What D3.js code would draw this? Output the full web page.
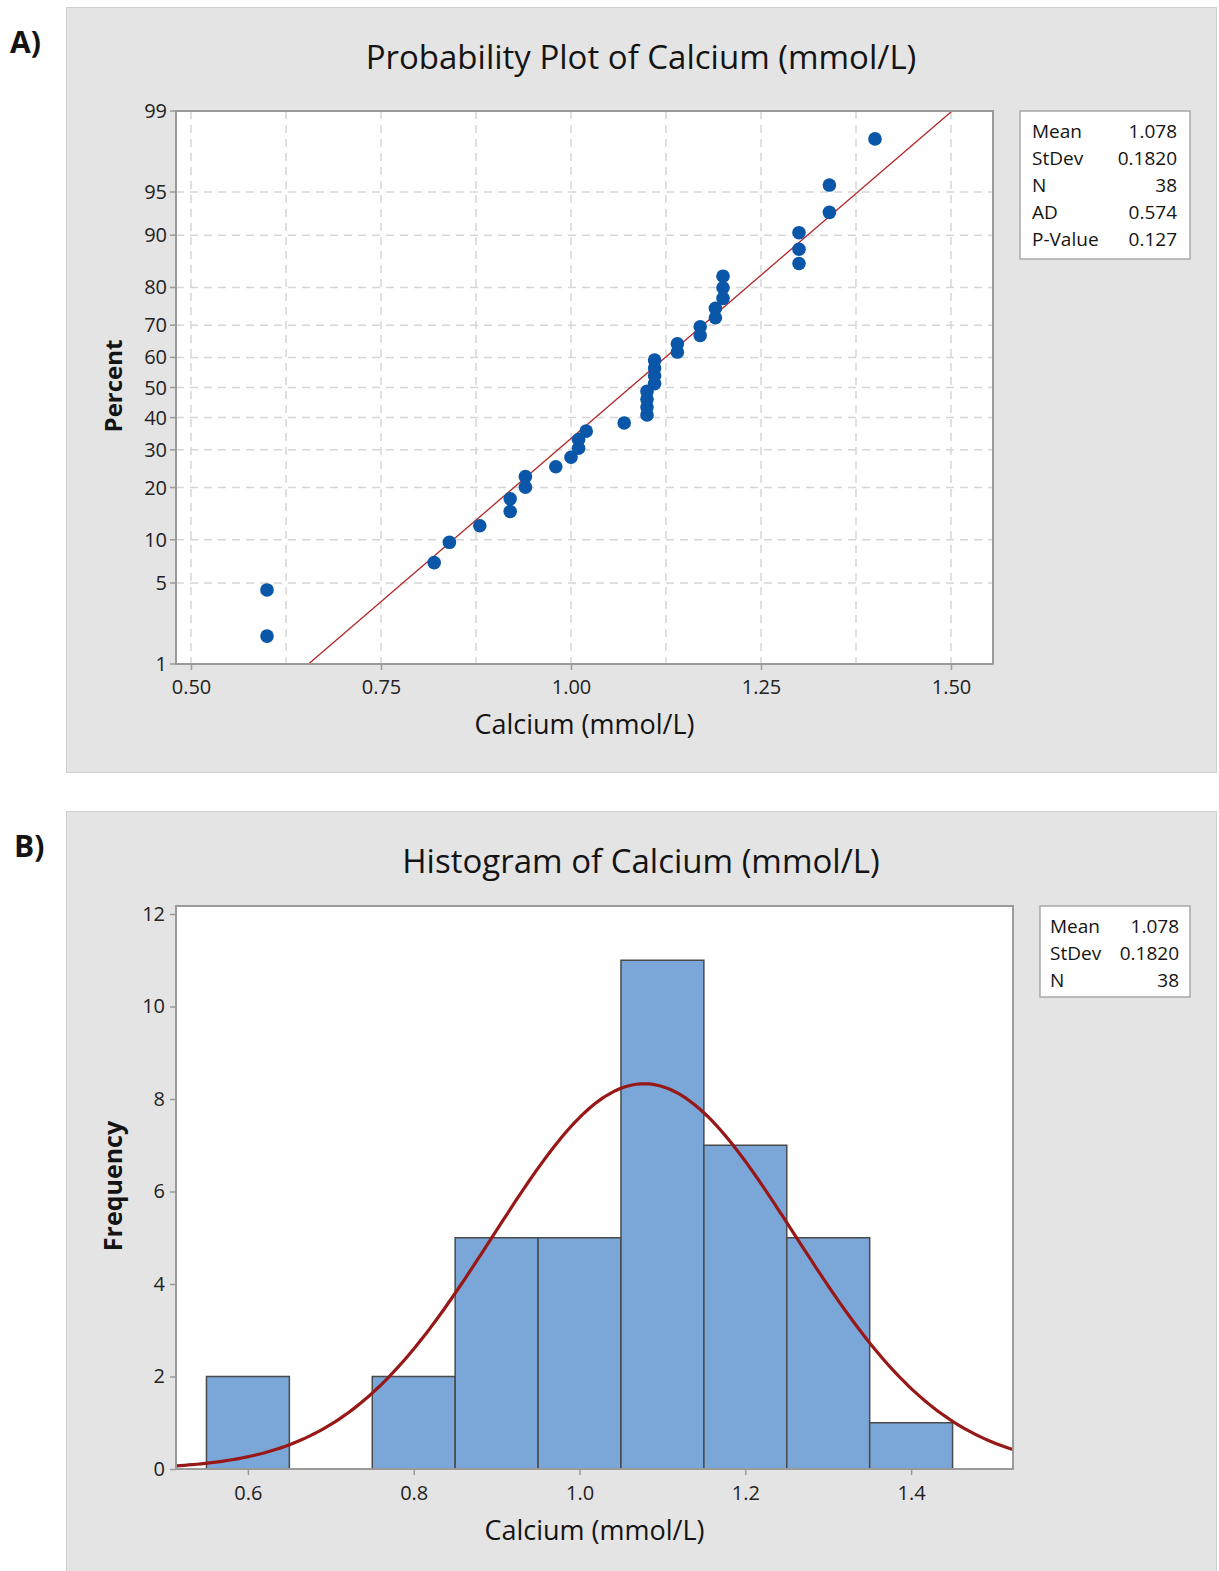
<!DOCTYPE html>
<html>
<head>
<meta charset="utf-8">
<script src="https://cdn.jsdelivr.net/npm/d3@7"></script>
<style>
  body { margin: 0; background: #fff; font-family: "Open Sans", "Noto Sans", sans-serif; }
  svg text { fill: #141414; }
</style>
</head>
<body>
<div id="my_dataviz"></div>
<script>
// calcium values (sorted)
var calcium = [0.60, 0.60, 0.82, 0.84, 0.88, 0.92, 0.92, 0.94, 0.94, 0.98,
               1.00, 1.01, 1.01, 1.02, 1.07, 1.10, 1.10, 1.10, 1.10, 1.11,
               1.11, 1.11, 1.11, 1.14, 1.14, 1.17, 1.17, 1.19, 1.19, 1.20,
               1.20, 1.20, 1.30, 1.30, 1.30, 1.34, 1.34, 1.40];
var fitMean = 1.078;
var fitSd = 0.1820;

var probStatLabels = ["Mean", "StDev", "N", "AD", "P-Value"];
var probStatValues = ["1.078", "0.1820", "38", "0.574", "0.127"];
var histStatLabels = ["Mean", "StDev", "N"];
var histStatValues = ["1.078", "0.1820", "38"];

var percentTicks = [1, 5, 10, 20, 30, 40, 50, 60, 70, 80, 90, 95, 99];
var probXTicks = [0.50, 0.75, 1.00, 1.25, 1.50];
var probXGrid = [0.50, 0.625, 0.75, 0.875, 1.00, 1.125, 1.25, 1.375, 1.50];

var binEdges = [0.55, 0.65, 0.75, 0.85, 0.95, 1.05, 1.15, 1.25, 1.35, 1.45];
var freqTicks = [0, 2, 4, 6, 8, 10, 12];
var histXTicks = [0.6, 0.8, 1.0, 1.2, 1.4];

// inverse normal cdf (Acklam)
function qnorm(p) {
    var a = [-39.69683028665376, 220.9460984245205, -275.9285104469687, 138.3577518672690, -30.66479806614716, 2.506628277459239];
    var b = [-54.47609879822406, 161.5858368580409, -155.6989798598866, 66.80131188771972, -13.28068155288572];
    var c = [-0.007784894002430293, -0.3223964580411365, -2.400758277161838, -2.549732539343734, 4.374664141464968, 2.938163982698783];
    var d = [0.007784695709041462, 0.3224671290700398, 2.445134137142996, 3.754408661907416];
    var q, r;
    if (p < 0.02425) {
        q = Math.sqrt(-2 * Math.log(p));
        return (((((c[0]*q+c[1])*q+c[2])*q+c[3])*q+c[4])*q+c[5]) / ((((d[0]*q+d[1])*q+d[2])*q+d[3])*q+1);
    } else if (p > 1 - 0.02425) {
        q = Math.sqrt(-2 * Math.log(1 - p));
        return -(((((c[0]*q+c[1])*q+c[2])*q+c[3])*q+c[4])*q+c[5]) / ((((d[0]*q+d[1])*q+d[2])*q+d[3])*q+1);
    }
    q = p - 0.5; r = q * q;
    return (((((a[0]*r+a[1])*r+a[2])*r+a[3])*r+a[4])*r+a[5])*q / (((((b[0]*r+b[1])*r+b[2])*r+b[3])*r+b[4])*r+1);
}

var W = 1219, H = 1571;
var svg = d3.select("#my_dataviz").append("svg")
    .attr("width", W).attr("height", H)
    .style("display", "block");

var panelFill = "#e4e4e4", panelStroke = "#cfcfcf";
var gridColor = "#d6d6d6", frameColor = "#9a9a9a";
var tickFont = "20px", labelFont = "27px", titleFont = "33px", legendFont = "19px";

// ---------------- Panel A : probability plot ----------------
svg.append("text").attr("x", 10).attr("y", 53)
    .style("font-size", "30px").style("font-weight", "bold").text("A)");

svg.append("rect").attr("x", 66.5).attr("y", 7.5).attr("width", 1150).attr("height", 765)
    .attr("fill", panelFill).attr("stroke", panelStroke);

var a = {left: 176, top: 111, right: 993, bottom: 664};
var gA = svg.append("g");

var xA = d3.scaleLinear().domain([0.5 - 15 / 760, 0.5 + 802 / 760]).range([a.left, a.right]);
var zMax = qnorm(0.99);
var yA = d3.scaleLinear().domain([-zMax, zMax]).range([a.bottom, a.top]);
var yP = function(p) { return yA(qnorm(p / 100)); };

gA.append("rect").attr("x", a.left).attr("y", a.top)
    .attr("width", a.right - a.left).attr("height", a.bottom - a.top).attr("fill", "#fff");

// grid
gA.selectAll(".vgrid").data(probXGrid).enter().append("line")
    .attr("x1", function(d) { return xA(d); }).attr("x2", function(d) { return xA(d); })
    .attr("y1", a.top).attr("y2", a.bottom)
    .attr("stroke", gridColor).attr("stroke-width", 1.5).attr("stroke-dasharray", "8,6");
gA.selectAll(".hgrid").data(percentTicks.slice(1, -1)).enter().append("line")
    .attr("x1", a.left).attr("x2", a.right)
    .attr("y1", function(d) { return yP(d); }).attr("y2", function(d) { return yP(d); })
    .attr("stroke", gridColor).attr("stroke-width", 1.5).attr("stroke-dasharray", "8,6");

// fitted line
var zLine = [-zMax, zMax];
gA.append("path").datum(zLine)
    .attr("fill", "none").attr("stroke", "#b02828").attr("stroke-width", 1.3)
    .attr("d", d3.line()
        .x(function(z) { return xA(fitMean + fitSd * z); })
        .y(function(z) { return yA(z); }));

// points (median ranks)
var n = calcium.length;
gA.selectAll("circle").data(calcium).enter().append("circle")
    .attr("cx", function(d) { return xA(d); })
    .attr("cy", function(d, i) { return yP(100 * (i + 1 - 0.3) / (n + 0.4)); })
    .attr("r", 6.8).attr("fill", "#0a56a8");

gA.append("rect").attr("x", a.left).attr("y", a.top)
    .attr("width", a.right - a.left).attr("height", a.bottom - a.top)
    .attr("fill", "none").attr("stroke", frameColor).attr("stroke-width", 2);

// axes
var axA = gA.append("g").attr("transform", "translate(0," + a.bottom + ")")
    .call(d3.axisBottom(xA).tickValues(probXTicks).tickFormat(d3.format(".2f")).tickSize(6).tickPadding(10));
axA.select(".domain").remove();
axA.selectAll(".tick line").attr("stroke", frameColor).attr("stroke-width", 1.5);
axA.selectAll(".tick text").style("font-size", tickFont).style("font-family", "Open Sans").style("fill", "#222");

var ayA = gA.append("g").attr("transform", "translate(" + a.left + ",0)");
ayA.selectAll(".tk").data(percentTicks).enter().append("line")
    .attr("x1", -6).attr("x2", 0)
    .attr("y1", function(d) { return yP(d); }).attr("y2", function(d) { return yP(d); })
    .attr("stroke", frameColor).attr("stroke-width", 1.5);
ayA.selectAll(".lb").data(percentTicks).enter().append("text")
    .attr("x", -9).attr("y", function(d) { return yP(d); }).attr("dy", "0.35em")
    .attr("text-anchor", "end").style("font-size", tickFont).style("fill", "#222").text(function(d) { return d; });

svg.append("text").attr("x", 641).attr("y", 69).attr("text-anchor", "middle")
    .style("font-size", titleFont).text("Probability Plot of Calcium (mmol/L)");
svg.append("text").attr("x", (a.left + a.right) / 2).attr("y", 734).attr("text-anchor", "middle")
    .style("font-size", labelFont).text("Calcium (mmol/L)");
svg.append("text").attr("transform", "translate(122," + 386 + ") rotate(-90)").attr("text-anchor", "middle")
    .style("font-size", "24px").style("font-weight", "bold").text("Percent");

// stats box A
var lgA = svg.append("g").attr("transform", "translate(1020,111)");
lgA.append("rect").attr("width", 170).attr("height", 148).attr("fill", "#fff")
    .attr("stroke", "#a8a8a8").attr("stroke-width", 1.5);
lgA.selectAll(".l").data(probStatLabels).enter().append("text")
    .attr("x", 12).attr("y", function(d, i) { return 26.5 + i * 27; })
    .style("font-size", legendFont).text(function(d) { return d; });
lgA.selectAll(".v").data(probStatValues).enter().append("text")
    .attr("x", 157).attr("y", function(d, i) { return 26.5 + i * 27; }).attr("text-anchor", "end")
    .style("font-size", legendFont).text(function(d) { return d; });

// ---------------- Panel B : histogram ----------------
svg.append("text").attr("x", 14).attr("y", 857)
    .style("font-size", "30px").style("font-weight", "bold").text("B)");

svg.append("rect").attr("x", 66.5).attr("y", 811.5).attr("width", 1150).attr("height", 770)
    .attr("fill", panelFill).attr("stroke", panelStroke);

var b = {left: 176, top: 906, right: 1013, bottom: 1469};
var gB = svg.append("g");

var xB = d3.scaleLinear().domain([0.6 - 72 / 830, 1.4 + 102 / 830]).range([b.left, b.right]);
var yB = d3.scaleLinear().domain([0, (b.bottom - b.top) / 46.25]).range([b.bottom, b.top]);

gB.append("rect").attr("x", b.left).attr("y", b.top)
    .attr("width", b.right - b.left).attr("height", b.bottom - b.top).attr("fill", "#fff");

var bins = d3.bin().domain([binEdges[0], binEdges[binEdges.length - 1]])
    .thresholds(binEdges.slice(1, -1))(calcium.map(function(v) { return v + 1e-9; }));

gB.selectAll(".bar").data(bins.filter(function(d) { return d.length > 0; })).enter().append("rect")
    .attr("x", function(d) { return xB(d.x0); })
    .attr("y", function(d) { return yB(d.length); })
    .attr("width", function(d) { return xB(d.x1) - xB(d.x0); })
    .attr("height", function(d) { return yB(0) - yB(d.length); })
    .attr("fill", "#7ba7d8").attr("stroke", "#4a4a4a").attr("stroke-width", 1.5);

// fitted normal curve scaled to counts
var binW = binEdges[1] - binEdges[0];
var curveX = d3.range(0, 201).map(function(i) { return xB.domain()[0] + i * (xB.domain()[1] - xB.domain()[0]) / 200; });
gB.append("path").datum(curveX)
    .attr("fill", "none").attr("stroke", "#981818").attr("stroke-width", 3.2)
    .attr("d", d3.line()
        .x(function(x) { return xB(x); })
        .y(function(x) {
            var z = (x - fitMean) / fitSd;
            return yB(n * binW * Math.exp(-0.5 * z * z) / (fitSd * Math.sqrt(2 * Math.PI)));
        }));

gB.append("rect").attr("x", b.left).attr("y", b.top)
    .attr("width", b.right - b.left).attr("height", b.bottom - b.top)
    .attr("fill", "none").attr("stroke", frameColor).attr("stroke-width", 2);

var axB = gB.append("g").attr("transform", "translate(0," + b.bottom + ")")
    .call(d3.axisBottom(xB).tickValues(histXTicks).tickFormat(d3.format(".1f")).tickSize(6).tickPadding(11));
var ayB = gB.append("g").attr("transform", "translate(" + b.left + ",0)")
    .call(d3.axisLeft(yB).tickValues(freqTicks).tickFormat(d3.format("d")).tickSize(6).tickPadding(5));
[axB, ayB].forEach(function(ax) {
    ax.select(".domain").remove();
    ax.selectAll(".tick line").attr("stroke", frameColor).attr("stroke-width", 1.5);
    ax.selectAll(".tick text").style("font-size", tickFont).style("font-family", "Open Sans").style("fill", "#222");
});

svg.append("text").attr("x", 641).attr("y", 873).attr("text-anchor", "middle")
    .style("font-size", titleFont).text("Histogram of Calcium (mmol/L)");
svg.append("text").attr("x", (b.left + b.right) / 2).attr("y", 1540).attr("text-anchor", "middle")
    .style("font-size", labelFont).text("Calcium (mmol/L)");
svg.append("text").attr("transform", "translate(122," + 1186 + ") rotate(-90)").attr("text-anchor", "middle")
    .style("font-size", "25px").style("font-weight", "bold").text("Frequency");

var lgB = svg.append("g").attr("transform", "translate(1040,906)");
lgB.append("rect").attr("width", 150).attr("height", 91).attr("fill", "#fff")
    .attr("stroke", "#a8a8a8").attr("stroke-width", 1.5);
lgB.selectAll(".l").data(histStatLabels).enter().append("text")
    .attr("x", 10).attr("y", function(d, i) { return 26.5 + i * 27; })
    .style("font-size", legendFont).text(function(d) { return d; });
lgB.selectAll(".v").data(histStatValues).enter().append("text")
    .attr("x", 139).attr("y", function(d, i) { return 26.5 + i * 27; }).attr("text-anchor", "end")
    .style("font-size", legendFont).text(function(d) { return d; });
</script>
</body>
</html>
